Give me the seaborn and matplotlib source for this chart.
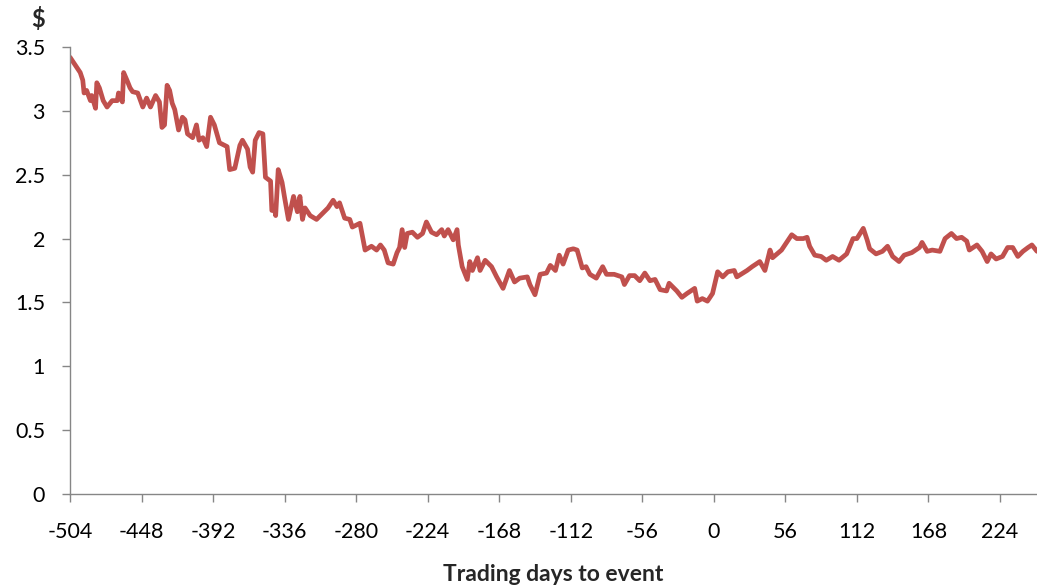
import matplotlib
matplotlib.use("Agg")
import matplotlib.pyplot as plt
import seaborn as sns
import pandas as pd
import numpy as np

days = [
    -504, -500, -496, -494, -493, -491, -488, -487, -484, -483, -481, -478, -475, -471,
    -467, -466, -463, -462, -459, -457, -455, -451, -447, -444, -441, -437, -434, -432,
    -430, -428, -426, -424, -422, -419, -416, -414, -412, -408, -405, -403, -400, -397,
    -394, -391, -387, -381, -379, -375, -371, -369, -365, -363, -361, -359, -356, -353,
    -351, -347, -346, -344, -343, -341, -338, -336, -333, -329, -326, -324, -322, -320,
    -316, -311, -306, -302, -298, -295, -293, -289, -285, -283, -277, -273, -268, -264,
    -261, -258, -255, -251, -248, -246, -244, -242, -240, -236, -232, -228, -225, -221,
    -217, -213, -211, -208, -204, -201, -200, -197, -193, -191, -189, -185, -183, -179,
    -174, -170, -165, -160, -156, -152, -146, -144, -140, -136, -131, -128, -124, -121,
    -118, -114, -110, -107, -103, -100, -97, -92, -87, -84, -78, -72, -70, -66,
    -62, -58, -54, -50, -46, -42, -37, -35, -29, -25, -21, -15, -13, -9,
    -5, -1, 3, 7, 11, 16, 18, 26, 30, 36, 40, 44, 46, 53,
    55, 61, 65, 70, 73, 75, 79, 84, 88, 93, 98, 104, 109, 112,
    117, 120, 122, 127, 132, 136, 140, 145, 149, 155, 161, 163, 167, 171,
    177, 181, 186, 190, 194, 198, 200, 206, 210, 214, 217, 221, 226, 230,
    234, 238, 242, 246, 249, 253,
]
price = [
    3.42, 3.36, 3.30, 3.24, 3.14, 3.16, 3.08, 3.12, 3.02, 3.22, 3.18, 3.08, 3.03, 3.08,
    3.08, 3.14, 3.07, 3.30, 3.23, 3.18, 3.15, 3.14, 3.03, 3.10, 3.03, 3.12, 3.07, 2.87,
    2.89, 3.20, 3.16, 3.06, 3.01, 2.85, 2.95, 2.93, 2.82, 2.79, 2.89, 2.77, 2.79, 2.72,
    2.95, 2.89, 2.75, 2.72, 2.54, 2.55, 2.73, 2.77, 2.70, 2.56, 2.52, 2.77, 2.83, 2.82,
    2.48, 2.45, 2.22, 2.24, 2.18, 2.54, 2.44, 2.32, 2.15, 2.33, 2.21, 2.33, 2.15, 2.24,
    2.18, 2.15, 2.20, 2.24, 2.30, 2.25, 2.28, 2.16, 2.15, 2.09, 2.12, 1.91, 1.94, 1.91,
    1.95, 1.91, 1.81, 1.80, 1.89, 1.93, 2.07, 1.93, 2.04, 2.05, 2.01, 2.04, 2.13, 2.05,
    2.03, 2.07, 2.02, 2.07, 1.99, 2.07, 1.95, 1.78, 1.68, 1.82, 1.75, 1.85, 1.75, 1.83,
    1.78, 1.70, 1.61, 1.75, 1.66, 1.69, 1.70, 1.64, 1.56, 1.72, 1.73, 1.79, 1.75, 1.87,
    1.80, 1.91, 1.92, 1.91, 1.77, 1.78, 1.72, 1.69, 1.78, 1.72, 1.72, 1.70, 1.64, 1.71,
    1.71, 1.67, 1.73, 1.67, 1.68, 1.60, 1.59, 1.65, 1.59, 1.54, 1.57, 1.61, 1.51, 1.53,
    1.51, 1.57, 1.74, 1.70, 1.74, 1.75, 1.70, 1.75, 1.78, 1.82, 1.75, 1.91, 1.85, 1.91,
    1.94, 2.03, 2.00, 2.00, 2.01, 1.94, 1.87, 1.86, 1.83, 1.86, 1.83, 1.88, 2.00, 2.00,
    2.08, 1.99, 1.92, 1.88, 1.90, 1.94, 1.86, 1.82, 1.87, 1.89, 1.93, 1.97, 1.90, 1.91,
    1.90, 2.00, 2.04, 2.00, 2.01, 1.98, 1.91, 1.95, 1.90, 1.82, 1.88, 1.84, 1.86, 1.93,
    1.93, 1.86, 1.90, 1.93, 1.95, 1.90,
]
x_ticks = [-504, -448, -392, -336, -280, -224, -168, -112, -56, 0, 56, 112, 168, 224]
y_ticks = [0, 0.5, 1, 1.5, 2, 2.5, 3, 3.5]
y_tick_labels = ["0", "0.5", "1", "1.5", "2", "2.5", "3", "3.5"]

sns.set_theme(style="white")
plt.rcParams["font.family"] = ["Lato", "DejaVu Sans"]

df = pd.DataFrame({"day": days, "price": price})

fig = plt.figure(figsize=(10.37, 5.86), dpi=100)
ax = fig.add_axes([70 / 1037, 1 - 494 / 586, 1 - 70 / 1037, (494 - 47) / 586])

sns.lineplot(data=df, x="day", y="price", ax=ax, color="#C0504D", linewidth=3.4)
for ln in ax.get_lines():
    ln.set_solid_joinstyle("round")
    ln.set_solid_capstyle("round")

ax.set_xlim(-504, 253)
ax.set_ylim(0, 3.5)
ax.set_xticks(x_ticks)
ax.set_xticklabels([str(t) for t in x_ticks])
ax.set_yticks(y_ticks)
ax.set_yticklabels(y_tick_labels)

for s in ["top", "right"]:
    ax.spines[s].set_visible(False)
for s in ["left", "bottom"]:
    ax.spines[s].set_color("#868686")
    ax.spines[s].set_linewidth(1.0)

ax.tick_params(axis="both", which="major", direction="out", length=6,
               width=1.0, color="#868686", labelsize=15.5, labelcolor="#000000",
               bottom=True, left=True)
ax.tick_params(axis="x", pad=14)
ax.tick_params(axis="y", pad=12)

ax.set_xlabel("Trading days to event", fontsize=16.5, fontweight="bold", labelpad=16)
ax.set_ylabel("")
fig.text(38 / 1037, 1 - 19 / 586, "$", fontsize=17, fontweight="bold",
         ha="center", va="center")

fig.savefig("out.png", dpi=100)
